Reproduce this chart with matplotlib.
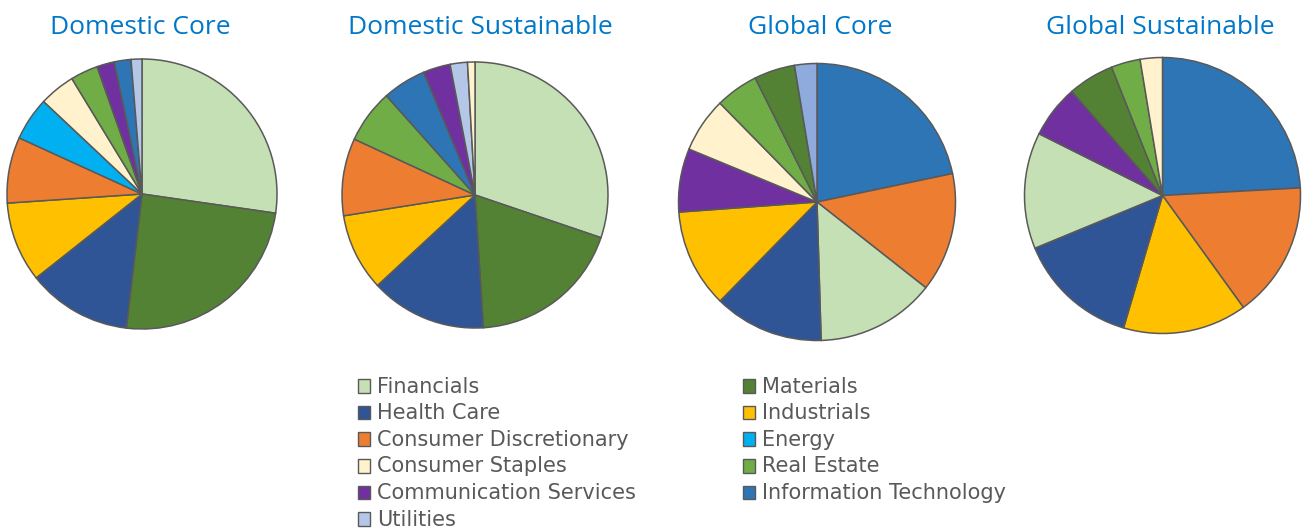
import matplotlib
matplotlib.use("Agg")
import matplotlib.pyplot as plt
from matplotlib.patches import Rectangle

W, H = 1306, 529

sector_colors = {
    "Financials": "#C5E0B4",
    "Health Care": "#2F5597",
    "Consumer Discretionary": "#ED7D31",
    "Consumer Staples": "#FFF2CC",
    "Communication Services": "#7030A0",
    "Utilities": "#B4C7E7",
    "Materials": "#548235",
    "Industrials": "#FFC000",
    "Energy": "#00B0F0",
    "Real Estate": "#70AD47",
    "Information Technology": "#2E75B6",
}

legend_col1 = ["Financials", "Health Care", "Consumer Discretionary", "Consumer Staples",
               "Communication Services", "Utilities"]
legend_col2 = ["Materials", "Industrials", "Energy", "Real Estate", "Information Technology"]

titles = ["Domestic Core", "Domestic Sustainable", "Global Core", "Global Sustainable"]

dc_sectors = ["Financials", "Materials", "Health Care", "Industrials", "Consumer Discretionary",
              "Energy", "Consumer Staples", "Real Estate", "Communication Services",
              "Information Technology", "Utilities"]
dc_values = [27.3, 24.6, 12.5, 9.6, 7.9, 5.2, 4.3, 3.3, 2.1, 2.0, 1.3]

ds_sectors = ["Financials", "Materials", "Health Care", "Industrials", "Consumer Discretionary",
              "Real Estate", "Information Technology", "Communication Services", "Utilities",
              "Consumer Staples"]
ds_values = [30.2, 18.8, 14.1, 9.4, 9.4, 6.5, 5.3, 3.3, 2.1, 0.9]

gc_sectors = ["Information Technology", "Consumer Discretionary", "Financials", "Health Care",
              "Industrials", "Communication Services", "Consumer Staples", "Real Estate",
              "Materials", "Utilities"]
gc_values = [21.7, 13.9, 13.9, 12.8, 11.5, 7.4, 6.4, 5.0, 4.75, 2.6]

gs_sectors = ["Information Technology", "Consumer Discretionary", "Industrials", "Health Care",
              "Financials", "Communication Services", "Materials", "Real Estate",
              "Consumer Staples"]
gs_values = [24.1, 15.9, 14.5, 14.2, 13.6, 6.2, 5.4, 3.4, 2.6]

pies = [(dc_sectors, dc_values), (ds_sectors, ds_values), (gc_sectors, gc_values), (gs_sectors, gs_values)]

# pixel geometry: (center x, center y, radius)
geom = [(142, 194, 135), (475, 195, 133), (817, 202, 138.5), (1162.5, 195.5, 138)]
title_pos = [(140, 34.3), (480, 34.3), (820, 34.3), (1160, 34.3)]

fig = plt.figure(figsize=(W / 100, H / 100), dpi=100)

for (secs, vals), (cx, cy, r), t, (tx, ty) in zip(pies, geom, titles, title_pos):
    ax = fig.add_axes([(cx - r) / W, 1 - (cy + r) / H, 2 * r / W, 2 * r / H])
    cols = [sector_colors[s] for s in secs]
    if t == "Global Core":
        cols = [("#8FAADC" if s == "Utilities" else sector_colors[s]) for s in secs]
    ax.pie(vals, colors=cols, startangle=90, counterclock=False, radius=1,
           wedgeprops=dict(edgecolor="#595959", linewidth=1.1))
    ax.set_xlim(-1.0, 1.0)
    ax.set_ylim(-1.0, 1.0)
    ax.set_aspect("equal")
    ax.axis("off")
    fig.text(tx / W, 1 - ty / H, t, ha="center", va="baseline", color="#0077C8",
             fontsize=19, family=["Open Sans", "DejaVu Sans"])

# legend drawn manually (two columns)
row0 = 392.7
dy = 26.6
for names, mx, txx in [(legend_col1, 357.5, 377), (legend_col2, 742.5, 762)]:
    for i, name in enumerate(names):
        base = row0 + i * dy
        fig.add_artist(Rectangle((mx / W, 1 - base / H), 12.5 / W, 13.5 / H,
                                 transform=fig.transFigure, facecolor=sector_colors[name],
                                 edgecolor="#595959", linewidth=1.0))
        fig.text(txx / W, 1 - base / H, name, ha="left", va="baseline", color="#595959",
                 fontsize=15, family=["DejaVu Sans"])

fig.savefig("out.png", dpi=100)
